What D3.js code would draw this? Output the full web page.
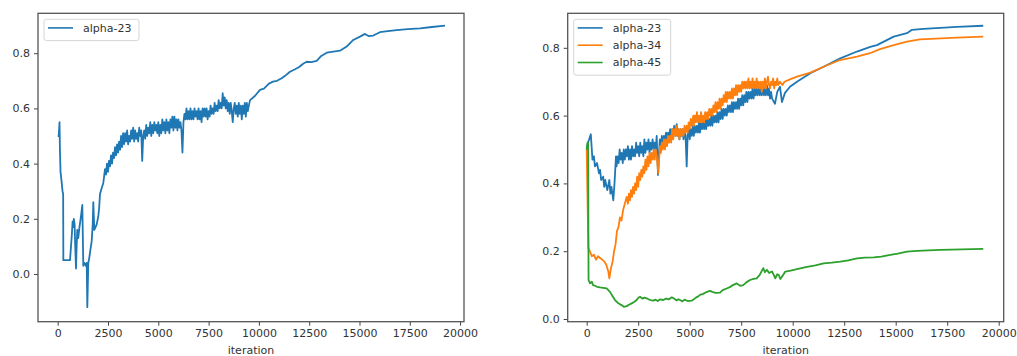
<!DOCTYPE html>
<html>
<head>
<meta charset="utf-8">
<script src="https://cdn.jsdelivr.net/npm/d3@7"></script>
<style>
  body { margin: 0; background: #fff; }
  svg { font-family: "DejaVu Sans", sans-serif; }
</style>
</head>
<body>
<div id="chart"></div>
<script>
// [iteration, value] pairs
const leftAlpha23 = [
  [0,0.50],[50,0.50],[90,0.55],[110,0.45],[140,0.37],[200,0.33],[240,0.30],[270,0.29],[280,0.05],[450,0.05],
  [611,0.05],[660,0.10],[700,0.14],[740,0.19],[770,0.17],[800,0.20],[840,0.18],[870,0.10],[909,0.02],[940,0.10],
  [974,0.16],[1020,0.13],[1080,0.17],[1140,0.20],[1223,0.25],[1272,0.03],[1330,0.04],[1400,0.03],[1441,0.04],[1471,-0.12],
  [1520,0.04],[1571,0.06],[1630,0.09],[1690,0.12],[1740,0.18],[1769,0.26],[1819,0.16],[1880,0.17],[1938,0.18],[2018,0.21],
  [2060,0.24],[2102,0.29],[2180,0.31],[2266,0.33],
  [2300,0.35],[2350,0.38],[2400,0.36],[2450,0.40],[2500,0.37],[2550,0.41],[2600,0.39],[2650,0.43],[2700,0.40],[2750,0.44],
  [2800,0.42],[2850,0.46],[2900,0.43],[2950,0.47],[3000,0.44],[3050,0.48],[3100,0.45],[3150,0.50],[3200,0.46],[3250,0.51],
  [3300,0.47],[3350,0.51],[3400,0.48],[3450,0.52],[3500,0.47],[3550,0.50],[3600,0.48],[3650,0.52],[3700,0.49],[3750,0.53],
  [3800,0.48],[3850,0.52],[3900,0.49],[3950,0.51],[4000,0.48],[4050,0.53],[4100,0.50],[4150,0.52],[4200,0.41],[4250,0.50],
  [4300,0.52],[4350,0.49],[4400,0.54],[4450,0.50],[4500,0.53],[4550,0.51],[4600,0.55],[4650,0.50],[4700,0.54],[4750,0.51],
  [4800,0.55],[4850,0.52],[4900,0.54],[4950,0.51],[5000,0.55],[5050,0.50],[5100,0.54],[5150,0.51],[5200,0.56],[5250,0.52],
  [5300,0.55],[5350,0.51],[5400,0.56],[5450,0.52],[5500,0.55],[5550,0.51],[5600,0.56],[5650,0.53],[5700,0.57],[5750,0.52],
  [5800,0.57],[5850,0.53],[5900,0.56],[5950,0.52],[6000,0.56],[6050,0.53],[6100,0.55],[6150,0.52],[6200,0.44],[6250,0.55],
  [6300,0.58],[6350,0.56],[6400,0.60],[6450,0.56],[6500,0.59],[6550,0.56],[6600,0.60],[6650,0.56],[6700,0.59],[6750,0.56],
  [6800,0.60],[6850,0.57],[6900,0.59],[6950,0.56],[7000,0.60],[7050,0.56],[7100,0.59],[7150,0.55],[7200,0.60],[7250,0.57],
  [7300,0.60],[7350,0.57],[7400,0.60],[7450,0.56],[7500,0.59],[7550,0.57],[7600,0.61],[7650,0.58],[7700,0.60],[7750,0.58],
  [7800,0.62],[7850,0.59],[7900,0.61],[7950,0.59],[8000,0.63],[8050,0.60],[8100,0.62],[8150,0.60],[8200,0.655],[8250,0.61],
  [8300,0.64],[8350,0.60],[8400,0.63],[8450,0.59],[8500,0.62],[8550,0.58],[8600,0.62],[8650,0.59],[8700,0.55],[8750,0.60],
  [8800,0.62],[8850,0.58],[8900,0.61],[8950,0.57],[9000,0.62],[9050,0.58],[9100,0.61],[9150,0.56],[9200,0.61],[9250,0.58],
  [9300,0.62],[9350,0.57],[9400,0.62],[9450,0.59],[9500,0.61],
  [9560,0.63],[9800,0.645],[10054,0.667],[10250,0.672],[10500,0.69],[10700,0.697],
  [10900,0.70],[11133,0.709],[11300,0.718],[11545,0.733],[11800,0.742],[12000,0.75],[12200,0.762],[12375,0.769],[12600,0.768],
  [12872,0.772],[13100,0.79],[13370,0.802],[13700,0.806],[14031,0.809],[14363,0.824],[14691,0.848],[15025,0.860],[15274,0.870],
  [15450,0.862],[15684,0.864],[16017,0.876],[16400,0.880],[16848,0.884],[17400,0.887],[18006,0.890],[18600,0.895],[19250,0.900]
];

const rightAlpha23 = [
  [0,0.50],[60,0.52],[120,0.53],[200,0.545],[280,0.47],[350,0.48],[400,0.45],[500,0.46],[600,0.43],[650,0.44],
  [700,0.41],[800,0.42],[850,0.39],[900,0.41],[1000,0.38],[1100,0.41],[1150,0.37],[1200,0.39],[1291,0.35],[1350,0.40],
  [1422,0.48],[1450,0.45],[1500,0.48],[1550,0.46],[1600,0.50],[1650,0.47],[1700,0.49],[1750,0.46],[1800,0.50],[1850,0.47],
  [1900,0.50],[1950,0.48],[2000,0.51],[2050,0.47],[2100,0.50],[2150,0.47],[2200,0.51],[2250,0.48],[2300,0.50],[2350,0.48],
  [2400,0.52],[2450,0.49],[2500,0.51],[2550,0.48],[2600,0.52],[2650,0.49],[2700,0.51],[2750,0.48],[2800,0.53],[2850,0.49],
  [2900,0.52],[2950,0.50],[3000,0.53],[3050,0.49],[3100,0.52],[3150,0.50],[3200,0.53],[3250,0.50],[3300,0.52],[3350,0.50],
  [3398,0.54],[3461,0.425],[3520,0.50],[3550,0.53],[3600,0.51],[3650,0.54],[3700,0.51],[3750,0.54],[3800,0.52],[3850,0.55],
  [3900,0.52],[3950,0.55],[4000,0.53],[4050,0.56],[4100,0.53],[4150,0.56],[4200,0.54],[4250,0.57],[4300,0.54],[4369,0.575],
  [4400,0.54],[4450,0.56],[4500,0.53],[4550,0.56],[4600,0.54],[4650,0.56],[4700,0.53],[4750,0.56],[4800,0.54],[4854,0.45],
  [4900,0.54],[4950,0.56],[5000,0.53],[5050,0.56],[5100,0.54],[5150,0.57],[5200,0.54],[5250,0.57],[5300,0.55],[5350,0.57],
  [5400,0.55],[5450,0.58],[5500,0.55],[5550,0.58],[5600,0.56],[5650,0.58],[5700,0.56],[5750,0.59],[5800,0.56],[5850,0.59],
  [5900,0.57],[5950,0.59],[6000,0.57],[6050,0.60],[6100,0.57],[6150,0.60],[6200,0.58],[6250,0.60],[6300,0.58],[6350,0.61],
  [6400,0.58],[6450,0.61],[6500,0.59],[6550,0.62],[6600,0.59],[6650,0.62],[6700,0.60],[6750,0.62],[6800,0.60],[6850,0.63],
  [6900,0.61],[6950,0.63],[7000,0.61],[7050,0.64],[7100,0.61],[7150,0.64],[7200,0.62],[7250,0.64],[7300,0.62],[7350,0.65],
  [7400,0.62],[7450,0.65],[7500,0.63],[7550,0.66],[7600,0.63],[7650,0.66],[7700,0.64],[7750,0.67],[7800,0.64],[7850,0.67],
  [7900,0.65],[7950,0.67],[8000,0.65],[8050,0.68],[8100,0.65],[8150,0.68],[8200,0.66],[8250,0.68],[8300,0.66],[8350,0.69],
  [8400,0.66],[8450,0.68],[8500,0.66],[8550,0.69],[8600,0.66],[8650,0.68],[8700,0.66],[8750,0.69],[8800,0.66],[8850,0.68],
  [8900,0.65],[8950,0.67],[9000,0.65],[9140,0.635],[9250,0.67],[9383,0.685],[9480,0.64],[9625,0.667],[9868,0.685],
  [10208,0.70],[10854,0.725],[11504,0.744],[12310,0.769],[13120,0.789],[13766,0.803],[14091,0.808],[14902,0.833],
  [15547,0.843],[15790,0.853],[16358,0.856],[17974,0.862],[19250,0.865]
];

const rightAlpha34 = [
  [0,0.50],[80,0.21],[150,0.20],[250,0.185],[350,0.19],[450,0.175],[550,0.185],[650,0.18],[750,0.175],[850,0.17],
  [950,0.16],[1050,0.14],[1100,0.12],[1180,0.15],[1260,0.17],[1330,0.20],[1400,0.22],[1471,0.26],[1540,0.27],[1616,0.30],
  [1690,0.29],[1762,0.32],[1850,0.34],
  [1942,0.36],[2000,0.34],[2050,0.37],[2100,0.35],[2150,0.38],[2200,0.36],[2250,0.39],[2300,0.37],[2350,0.40],[2400,0.38],
  [2450,0.42],[2500,0.39],[2550,0.43],[2600,0.41],[2650,0.44],[2700,0.42],[2750,0.45],[2800,0.43],[2850,0.47],[2900,0.44],
  [2950,0.48],[3000,0.45],[3050,0.49],[3100,0.46],[3150,0.49],[3200,0.47],[3250,0.50],[3300,0.47],[3350,0.50],[3400,0.48],
  [3475,0.43],[3558,0.51],[3600,0.49],[3650,0.52],[3700,0.50],[3750,0.53],[3800,0.50],[3850,0.53],[3900,0.51],[3950,0.54],
  [4000,0.52],[4050,0.54],[4100,0.52],[4150,0.56],[4200,0.53],[4250,0.56],[4300,0.54],[4350,0.57],[4400,0.54],[4450,0.56],
  [4500,0.53],[4550,0.56],[4600,0.54],[4650,0.56],[4700,0.54],[4750,0.57],[4800,0.55],[4854,0.57],[4900,0.55],[4950,0.58],
  [5000,0.56],[5050,0.59],[5100,0.57],[5174,0.60],[5200,0.57],[5250,0.60],[5300,0.58],[5350,0.61],[5400,0.58],[5450,0.60],
  [5500,0.58],[5550,0.61],[5600,0.58],[5650,0.60],[5700,0.58],[5750,0.61],[5800,0.59],[5850,0.61],[5900,0.59],[5950,0.62],
  [6000,0.60],[6050,0.62],[6100,0.60],[6150,0.63],[6200,0.61],[6250,0.64],[6300,0.61],[6350,0.64],[6400,0.62],[6450,0.65],
  [6500,0.62],[6550,0.65],[6600,0.63],[6650,0.66],[6700,0.64],[6750,0.67],[6800,0.64],[6850,0.67],[6900,0.65],[6950,0.67],
  [7000,0.65],[7050,0.68],[7100,0.65],[7150,0.68],[7200,0.66],[7250,0.69],[7300,0.66],[7350,0.69],[7400,0.67],[7450,0.69],
  [7500,0.67],[7550,0.70],[7600,0.68],[7650,0.70],[7700,0.68],[7750,0.70],[7800,0.68],[7850,0.71],[7900,0.68],[7950,0.70],
  [8000,0.68],[8050,0.71],[8100,0.68],[8150,0.70],[8200,0.68],[8250,0.71],[8300,0.68],[8350,0.70],[8400,0.68],[8450,0.70],
  [8500,0.67],[8550,0.70],[8600,0.68],[8650,0.71],[8700,0.68],[8750,0.70],[8800,0.715],[8850,0.69],[8900,0.68],[8950,0.70],
  [9000,0.69],[9050,0.71],[9100,0.68],[9150,0.70],[9200,0.69],[9250,0.71],[9300,0.69],[9383,0.70],[9500,0.69],[9600,0.70],
  [9868,0.707],[10208,0.715],[10854,0.727],[11504,0.744],[12295,0.764],[13120,0.774],[13752,0.784],[14237,0.796],
  [14902,0.808],[15547,0.818],[16178,0.825],[17974,0.830],[19250,0.833]
];

const rightAlpha45 = [
  [0,0.50],[40,0.52],[70,0.52],[90,0.115],[160,0.105],[250,0.11],[306,0.10],[400,0.098],[500,0.095],[646,0.093],
  [800,0.092],[971,0.09],[1131,0.08],[1250,0.068],[1374,0.056],[1500,0.048],[1600,0.044],[1699,0.041],[1800,0.036],[1942,0.038],
  [2050,0.042],[2184,0.046],[2300,0.05],[2427,0.056],[2500,0.062],[2587,0.066],[2700,0.06],[2800,0.063],[2912,0.061],[3000,0.058],
  [3100,0.056],[3233,0.054],[3350,0.057],[3450,0.053],[3550,0.058],[3718,0.056],[3850,0.06],[4000,0.058],[4126,0.064],[4250,0.06],
  [4350,0.055],[4450,0.058],[4529,0.056],[4650,0.052],[4750,0.057],[4900,0.053],[5097,0.054],[5200,0.058],[5300,0.063],[5400,0.066],
  [5500,0.071],[5650,0.074],[5800,0.079],[5985,0.083],[6100,0.08],[6250,0.077],[6471,0.078],[6600,0.085],[6796,0.09],[6950,0.094],
  [7100,0.10],[7281,0.105],[7450,0.098],[7601,0.10],[7750,0.108],[7927,0.115],[8100,0.118],[8252,0.12],[8400,0.13],[8500,0.142],
  [8572,0.15],[8650,0.138],[8752,0.145],[8850,0.136],[8995,0.14],[9080,0.13],[9155,0.12],[9250,0.132],[9320,0.13],[9400,0.118],
  [9480,0.125],[9560,0.132],[9640,0.14],[9900,0.143],[10208,0.147],[10693,0.154],[11100,0.158],[11504,0.164],[11900,0.166],
  [12310,0.169],[12700,0.173],[13120,0.179],[13500,0.181],[13931,0.182],[14300,0.184],[14737,0.189],[15100,0.193],[15547,0.199],
  [16033,0.201],[17164,0.204],[19250,0.207]
];

const xTicks = [0, 2500, 5000, 7500, 10000, 12500, 15000, 17500, 20000];
const yTicks = [0.0, 0.2, 0.4, 0.6, 0.8];
const seriesNames = ["alpha-23", "alpha-34", "alpha-45"];
const colors = ["#1f77b4", "#ff7f0e", "#2ca02c"];
const xLabel = "iteration";

const svg = d3.select("#chart")
    .append("svg")
    .attr("width", 1017)
    .attr("height", 356);

function drawPanel(p) {
    const x = d3.scaleLinear().domain(p.xDomain).range([p.left, p.right]);
    const y = d3.scaleLinear().domain(p.yDomain).range([p.bottom, p.top]);
    const g = svg.append("g");

    const line = d3.line()
        .x(d => x(d[0]))
        .y(d => y(d[1]));

    p.series.forEach(s => {
        g.append("path")
            .datum(s.data)
            .attr("fill", "none")
            .attr("stroke", s.color)
            .attr("stroke-width", 1.8)
            .attr("stroke-linejoin", "round")
            .attr("d", line);
    });

    // x axis
    const xa = g.append("g")
        .attr("transform", `translate(0,${p.bottom})`)
        .call(d3.axisBottom(x).tickValues(xTicks).tickSize(4).tickPadding(4).tickFormat(d3.format("d")));
    // y axis
    const ya = g.append("g")
        .attr("transform", `translate(${p.left},0)`)
        .call(d3.axisLeft(y).tickValues(yTicks).tickSize(4).tickPadding(4).tickFormat(d3.format(".1f")));

    [xa, ya].forEach(a => {
        a.select(".domain").remove();
        a.selectAll(".tick line").attr("stroke", "#444");
        a.selectAll(".tick text")
            .attr("fill", "#333")
            .style("font-size", "11px")
            .style("font-family", "DejaVu Sans, sans-serif");
    });

    // frame
    g.append("rect")
        .attr("x", p.left)
        .attr("y", p.top)
        .attr("width", p.right - p.left)
        .attr("height", p.bottom - p.top)
        .attr("fill", "none")
        .attr("stroke", "#555")
        .attr("stroke-width", 1.3);

    g.append("text")
        .attr("x", (p.left + p.right) / 2)
        .attr("y", p.bottom + 32)
        .attr("text-anchor", "middle")
        .attr("fill", "#333")
        .style("font-size", "11px")
        .text(xLabel);

    // legend
    const lg = g.append("g").attr("transform", `translate(${p.left + 6},${p.top + 6})`);
    lg.append("rect")
        .attr("width", p.legendWidth)
        .attr("height", 4 + p.series.length * 17.3)
        .attr("rx", 2.5)
        .attr("fill", "#fff")
        .attr("fill-opacity", 0.8)
        .attr("stroke", "#d6d6d6");
    p.series.forEach((s, i) => {
        const ly = 8.6 + i * 17.3;
        lg.append("line")
            .attr("x1", 4).attr("x2", 29)
            .attr("y1", ly).attr("y2", ly)
            .attr("stroke", s.color)
            .attr("stroke-width", 1.6);
        lg.append("text")
            .attr("x", 39)
            .attr("y", ly)
            .attr("dy", "0.35em")
            .attr("fill", "#333")
            .style("font-size", "11px")
            .text(s.name);
    });
}

drawPanel({
    left: 38, right: 464, top: 13.3, bottom: 321.7,
    xDomain: [-980, 20195], yDomain: [-0.1728, 0.9446],
    legendWidth: 95,
    series: [{ name: seriesNames[0], data: leftAlpha23, color: colors[0] }]
});

drawPanel({
    left: 567.7, right: 1003.7, top: 13.3, bottom: 321.7,
    xDomain: [-922, 20243], yDomain: [-0.008, 0.9018],
    legendWidth: 97,
    series: [
        { name: seriesNames[0], data: rightAlpha23, color: colors[0] },
        { name: seriesNames[1], data: rightAlpha34, color: colors[1] },
        { name: seriesNames[2], data: rightAlpha45, color: colors[2] }
    ]
});
</script>
</body>
</html>
